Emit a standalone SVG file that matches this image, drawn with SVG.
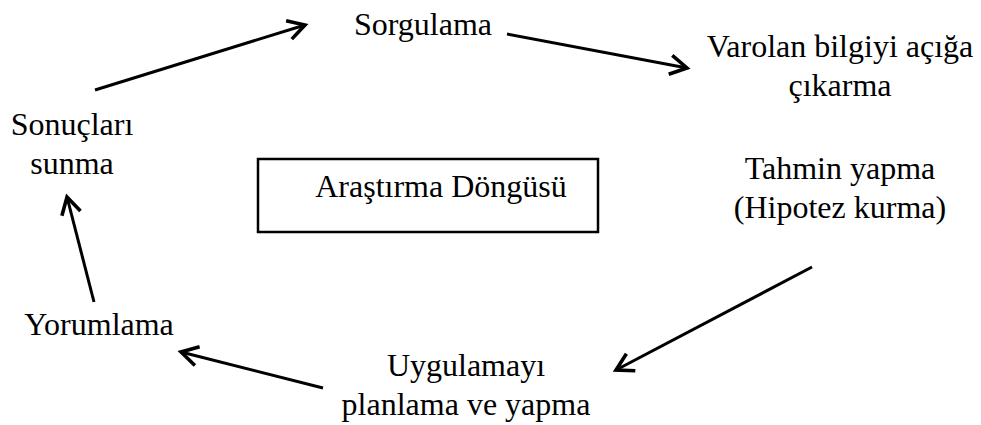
<svg xmlns="http://www.w3.org/2000/svg" width="981" height="425" viewBox="0 0 981 425">
<style>
text{font-family:"Liberation Serif","Times New Roman",serif;font-size:32px;fill:#000;text-anchor:middle}
.c{stroke:#000;stroke-width:3;fill:none}
</style>
<defs>
<marker id="ah" markerUnits="userSpaceOnUse" markerWidth="24" markerHeight="24" refX="16" refY="10" orient="auto" viewBox="0 0 20 20">
<path d="M2,2 L16,10 L2,18" fill="none" stroke="#000" stroke-width="3" stroke-linejoin="miter"/>
</marker>
</defs>
<rect width="981" height="425" fill="#fff"/>
<g id="connectors">
<line class="c" x1="95" y1="90" x2="305" y2="25" marker-end="url(#ah)"/>
<line class="c" x1="507" y1="34" x2="687" y2="68" marker-end="url(#ah)"/>
<line class="c" x1="812" y1="267" x2="616" y2="370" marker-end="url(#ah)"/>
<line class="c" x1="323" y1="388" x2="181" y2="352" marker-end="url(#ah)"/>
<line class="c" x1="94" y1="302" x2="67" y2="197" marker-end="url(#ah)"/>
</g>
<g id="sorgulama"><text x="423" y="35">Sorgulama</text></g>
<g id="varolan"><text x="840" y="57">Varolan bilgiyi açığa</text><text x="840" y="96">çıkarma</text></g>
<g id="tahmin"><text x="840" y="179">Tahmin yapma</text><text x="840" y="218">(Hipotez kurma)</text></g>
<g id="uygulama"><text x="466" y="376">Uygulamayı</text><text x="466" y="415">planlama ve yapma</text></g>
<g id="yorumlama"><text x="99" y="335">Yorumlama</text></g>
<g id="sonuclari"><text x="72" y="135">Sonuçları</text><text x="72" y="174">sunma</text></g>
<g id="merkez"><rect x="258" y="159" width="340" height="73" fill="none" stroke="#000" stroke-width="2.5"/><text x="441" y="197">Araştırma Döngüsü</text></g>
</svg>
